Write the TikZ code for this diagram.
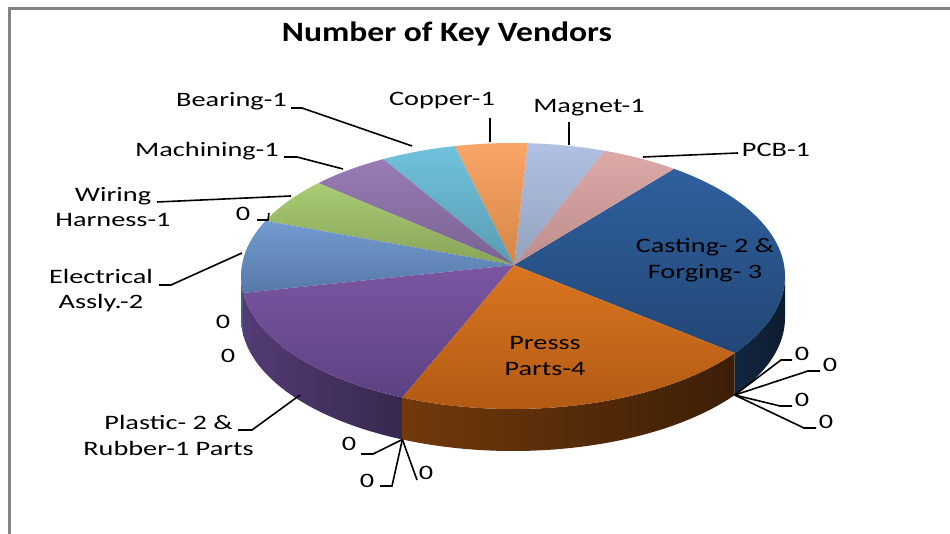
\documentclass[tikz,border=0pt]{standalone}
\usepackage{fontspec}
\setmainfont{Carlito}[FakeStretch=1.38]
\newfontfamily\titlefont{Carlito}[FakeStretch=1.2]
\usetikzlibrary{calc}
\definecolor{castT}{HTML}{2F609E}\definecolor{castB}{HTML}{224676}
\definecolor{pressT}{HTML}{DA7520}\definecolor{pressB}{HTML}{AE5812}
\definecolor{plasT}{HTML}{7B56A2}\definecolor{plasB}{HTML}{5C4282}
\definecolor{elecT}{HTML}{739BD0}\definecolor{elecB}{HTML}{5779A9}
\definecolor{wirT}{HTML}{AACC74}\definecolor{wirB}{HTML}{88A458}
\definecolor{machT}{HTML}{987CB5}\definecolor{machB}{HTML}{786292}
\definecolor{bearT}{HTML}{70C2DC}\definecolor{bearB}{HTML}{579CB2}
\definecolor{copT}{HTML}{FAA668}\definecolor{copB}{HTML}{D48646}
\definecolor{magT}{HTML}{B0C1E3}\definecolor{magB}{HTML}{94A2BD}
\definecolor{pcbT}{HTML}{DCA9A7}\definecolor{pcbB}{HTML}{BC8E8C}
\definecolor{frame}{HTML}{858585}

\begin{document}
\begin{tikzpicture}
	[x=1pt, y=1pt,
	lbl/.style={font=\fontsize{20.5}{25.5}\selectfont, inner sep=0pt, align=center},
	title/.style={font=\titlefont\fontsize{28}{30}\selectfont\bfseries, inner sep=0pt},
	leader/.style={draw=black, line width=1.6pt},
	rim/.style={x radius=272, y radius=133}]
	\useasboundingbox (0,0) rectangle (950,534);
	\draw[frame, line width=3pt] (9,0) -- (9,525) -- (950,525);
	\coordinate (ctr) at (513,258);
	\coordinate (apex) at (514,269);
	% side of the pie
	\foreach \s/\e/\cl/\cr in {180/187.3/elecB!80!black/elecB!70!black, 187.3/246/plasB!90!black/plasB!60!black, 246/324.6/pressB!65!black/pressB!35!black, 324.6/360/castB!55!black/castB!40!black}
		\shade[left color=\cl, right color=\cr] ($(ctr)+(\s:272 and 133)$) arc[rim, start angle=\s, end angle=\e] -- ++(0,-42) arc[rim, start angle=\e, end angle=\s] -- cycle;
	% top of the pie
	\foreach \s/\e/\ct/\cb in {-35.4/53.7/castT/castB, 53.7/70.4/pcbT/pcbB, 70.4/86.9/magT/magB, 86.9/102.4/copT/copB, 102.4/118.5/bearT/bearB, 118.5/135.7/machT/machB, 135.7/155.5/wirT/wirB, 155.5/187.3/elecT/elecB, 187.3/246/plasT/plasB, 246/324.6/pressT/pressB}
		\shade[top color=\ct, bottom color=\cb] (apex) -- ($(ctr)+(\s:272 and 133)$) arc[rim, start angle=\s, end angle=\e] -- cycle;
	\coordinate (zb) at ($(ctr)+(246:272 and 133)+(0,-42)$);
	\coordinate (zr) at ($(ctr)+(324.6:272 and 133)+(0,-42)$);

	\node[title] (title) at (447,500) {Number of Key Vendors};
	\node[lbl] (casting) at (705,274) {Casting- 2 \&\\Forging- 3};
	\node[lbl] (press) at (545,178) {Presss\\Parts-4};
	\node[lbl] (bearing) at (231.5,433) {Bearing-1};
	\node[lbl] (copper) at (442,433) {Copper-1};
	\node[lbl] (magnet) at (589,426) {Magnet-1};
	\node[lbl] (pcb) at (776,384) {PCB-1};
	\node[lbl] (machining) at (207,383) {Machining-1};
	\node[lbl] (wiring) at (113,327) {Wiring\\Harness-1};
	\node[lbl] (electrical) at (101,243.5) {Electrical\\Assly.-2};
	\node[lbl] (plastic) at (168.5,98.5) {Plastic- 2 \&\\Rubber-1 Parts};
	\node[lbl] (zw) at (243,320) {0};
	\node[lbl] (zl1) at (223,212) {0};
	\node[lbl] (zl2) at (228,178) {0};
	\node[lbl] (zb1) at (349,90) {0};
	\node[lbl] (zb2) at (367,53) {0};
	\node[lbl] (zb3) at (426,61) {0};
	\node[lbl] (zr1) at (802,180) {0};
	\node[lbl] (zr2) at (830,169) {0};
	\node[lbl] (zr3) at (802,134) {0};
	\node[lbl] (zr4) at (826,112) {0};

	% leader lines
	\draw[leader] (291,426) -- (302,426) -- (412,388);
	\draw[leader] (490,416) -- (490,392);
	\draw[leader] (569,412) -- (569,389);
	\draw[leader] (643,377) -- (738,381);
	\draw[leader] (284,377) -- (297,377) -- (343,365);
	\draw[leader] (157,332) -- (291,338);
	\draw[leader] (257,314) -- (268,314) -- (269,321);
	\draw[leader] (159,249) -- (171,249) -- (242,281);
	\draw[leader] (238,104) -- (252,104) -- (300,139);
	\draw[leader] (361,80) -- (373,80) -- (zb);
	\draw[leader] (380,48) -- (392,48) -- (zb);
	\draw[leader] (417,54) -- (zb);
	\draw[leader] (792,174) -- (781,174) -- (zr);
	\draw[leader] (820,163) -- (808,163) -- (zr);
	\draw[leader] (792,128) -- (780,128) -- (zr);
	\draw[leader] (816,106) -- (804,106) -- (zr);
\end{tikzpicture}
\end{document}
